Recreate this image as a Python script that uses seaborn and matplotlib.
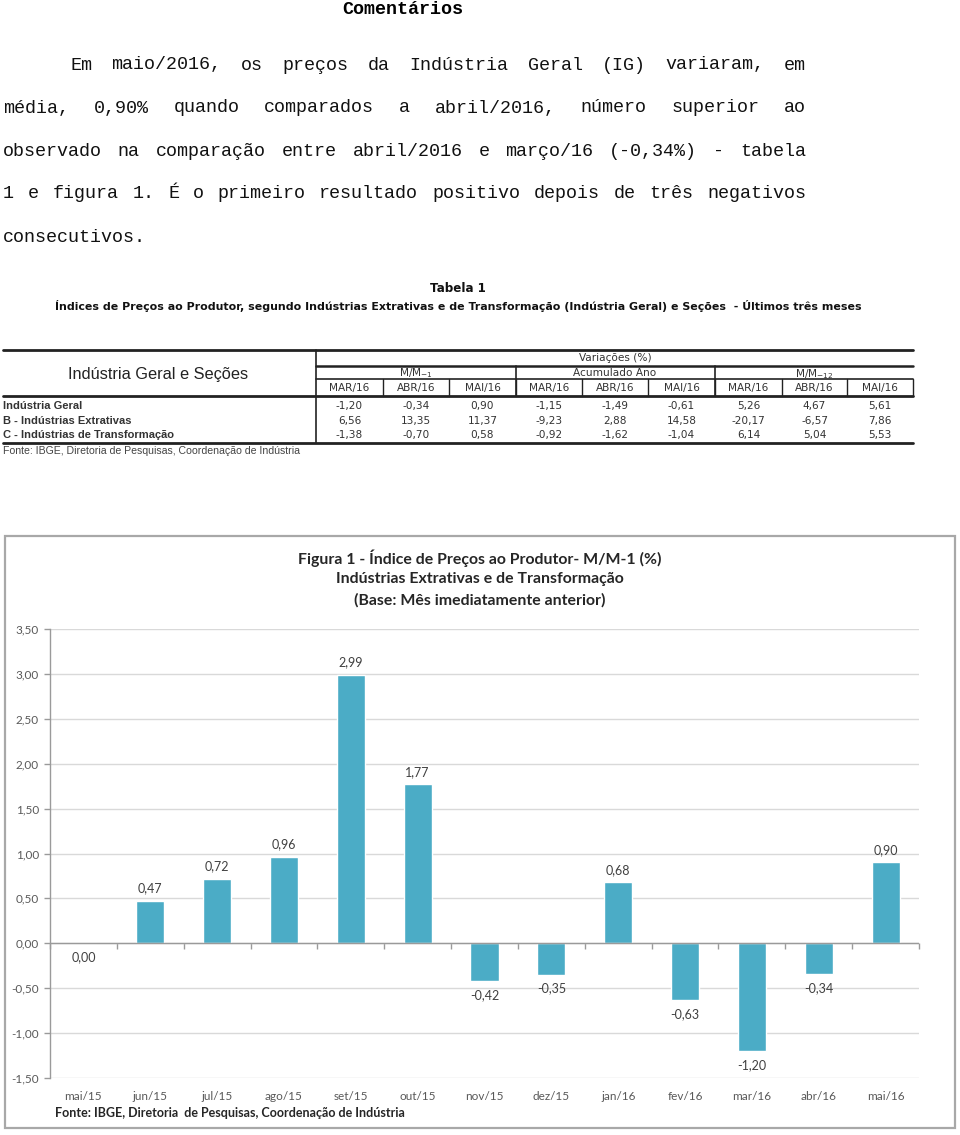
import matplotlib
matplotlib.use("Agg")
import matplotlib.pyplot as plt
from matplotlib.lines import Line2D
from matplotlib.patches import Rectangle
import seaborn as sns
import pandas as pd
from matplotlib.ticker import FuncFormatter, FixedLocator

# ---------------- data ----------------
months = ["mai/15", "jun/15", "jul/15", "ago/15", "set/15", "out/15", "nov/15",
          "dez/15", "jan/16", "fev/16", "mar/16", "abr/16", "mai/16"]
mm1_series = [0.00, 0.47, 0.72, 0.96, 2.99, 1.77, -0.42, -0.35, 0.68, -0.63, -1.20, -0.34, 0.90]
y_ticks = [-1.50, -1.00, -0.50, 0.00, 0.50, 1.00, 1.50, 2.00, 2.50, 3.00, 3.50]

table_rows = ["Indústria Geral", "B - Indústrias Extrativas", "C - Indústrias de Transformação"]
table_months = ["MAR/16", "ABR/16", "MAI/16"]
table_mm1 = [[-1.20, -0.34, 0.90], [6.56, 13.35, 11.37], [-1.38, -0.70, 0.58]]
table_acum = [[-1.15, -1.49, -0.61], [-9.23, 2.88, 14.58], [-0.92, -1.62, -1.04]]
table_mm12 = [[5.26, 4.67, 5.61], [-20.17, -6.57, 7.86], [6.14, 5.04, 5.53]]

paragraph = [
    "Em maio/2016, os preços da Indústria Geral (IG) variaram, em",
    "média, 0,90% quando comparados a abril/2016, número superior ao",
    "observado na comparação entre abril/2016 e março/16 (-0,34%) - tabela",
    "1 e figura 1. É o primeiro resultado positivo depois de três negativos",
    "consecutivos.",
]

W, H = 960, 1135
sns.set_theme(style="white")
plt.rcParams['font.family'] = ['DejaVu Sans']
fig = plt.figure(figsize=(W / 100, H / 100), dpi=100)
fig.patch.set_facecolor("white")


def fx(x):
    return x / W


def fy(y):
    return 1 - y / H


def ftext(x, y, s, **kw):
    fig.text(fx(x), fy(y), s, **kw)


def hline(x0, x1, y, lw=1.0, color="#222222"):
    fig.add_artist(Line2D([fx(x0), fx(x1)], [fy(y), fy(y)], lw=lw, color=color,
                          transform=fig.transFigure))


def vline(x, y0, y1, lw=1.0, color="#222222"):
    fig.add_artist(Line2D([fx(x), fx(x)], [fy(y0), fy(y1)], lw=lw, color=color,
                          transform=fig.transFigure))


def fmt(v):
    return f"{v:.2f}".replace(".", ",")


# ---------------- text block ----------------
mono = "Liberation Mono"
fs_mono = 13.2
cw = 0.6 * fs_mono * 100 / 72
ftext(403, 10, "Comentários", family=mono, fontsize=fs_mono, weight="bold",
      ha="center", va="center", color="black")
line_y = [65, 108, 151, 194, 237]
line_x0 = [70, 3, 3, 3, 3]
right_edge = 806
for i, line in enumerate(paragraph):
    y = line_y[i]
    if i == len(paragraph) - 1:
        ftext(line_x0[i], y, line, family=mono, fontsize=fs_mono, ha="left",
              va="center", color="#111111")
        continue
    words = line.split(" ")
    total = sum(len(w) for w in words) * cw
    gap = (right_edge - line_x0[i] - total) / (len(words) - 1)
    x = line_x0[i]
    for w in words:
        ftext(x, y, w, family=mono, fontsize=fs_mono, ha="left", va="center",
              color="#111111")
        x += len(w) * cw + gap

# ---------------- table ----------------
ftext(458, 289, "Tabela 1", fontsize=8.6, weight="bold", ha="center", va="center",
      color="#111111")
ftext(458, 306, "Índices de Preços ao Produtor, segundo Indústrias Extrativas e de "
      "Transformação (Indústria Geral) e Seções  - Últimos três meses",
      fontsize=7.95, weight="bold", ha="center", va="center", color="#111111")

col_edges = [316, 383, 449, 516, 582, 648, 715, 782, 847, 913]
hline(3, 913, 350, lw=2.0)
hline(316, 913, 366, lw=1.8)
hline(316, 913, 379, lw=1.2)
hline(3, 913, 396, lw=2.0)
hline(3, 913, 443, lw=2.0)
vline(316, 350, 443, lw=1.2)
vline(516, 366, 396, lw=1.2)
vline(715, 366, 396, lw=1.2)
for xe in col_edges[1:]:
    vline(xe, 379, 396, lw=1.0)

sub = "Liberation Sans"
hdr_fs = 7.6
ftext(158, 375, "Indústria Geral e Seções", family=sub, fontsize=11.8, ha="center",
      va="center", color="#222222")
ftext(615, 358, "Variações (%)", fontsize=hdr_fs, ha="center", va="center", color="#333333")
ftext(416, 373, "M/M$_{-1}$", fontsize=hdr_fs, ha="center", va="center", color="#333333")
ftext(615, 373, "Acumulado Ano", fontsize=hdr_fs, ha="center", va="center", color="#333333")
ftext(814, 374, "M/M$_{-12}$", fontsize=hdr_fs, ha="center", va="center", color="#333333")
for k in range(9):
    cx = (col_edges[k] + col_edges[k + 1]) / 2
    ftext(cx, 388, table_months[k % 3], fontsize=hdr_fs, ha="center", va="center",
          color="#333333")

row_y = [406, 421, 435]
for r, name in enumerate(table_rows):
    ftext(3, row_y[r], name, family=sub, fontsize=8.0, weight="bold", ha="left",
          va="center", color="#333333")
    vals = table_mm1[r] + table_acum[r] + table_mm12[r]
    for k, v in enumerate(vals):
        cx = (col_edges[k] + col_edges[k + 1]) / 2
        ftext(cx, row_y[r], fmt(v), fontsize=7.6, ha="center", va="center",
              color="#333333")
ftext(3, 451, "Fonte: IBGE, Diretoria de Pesquisas, Coordenação de Indústria",
      family=sub, fontsize=7.6, ha="left", va="center", color="#444444")

# ---------------- chart ----------------
fig.add_artist(Rectangle((fx(5), fy(1128)), fx(950), (1128 - 536) / H, fill=False,
                         edgecolor="#a8a8a8", lw=1.6, transform=fig.transFigure))
cfont = "Lato"
title_lines = ["Figura 1 - Índice de Preços ao Produtor- M/M-1 (%)",
               "Indústrias Extrativas e de Transformação",
               "(Base: Mês imediatamente anterior)"]
for t, yy in zip(title_lines, [558, 579, 600]):
    ftext(480, yy, t, family=cfont, fontsize=11.4, weight="bold", ha="center",
          va="center", color="#262626")

ax_left, ax_right, ax_top, ax_bot = 50, 919, 629, 1078
ax = fig.add_axes([fx(ax_left), fy(ax_bot), (ax_right - ax_left) / W,
                   (ax_bot - ax_top) / H])
df = pd.DataFrame({"mes": months, "valor": mm1_series})
sns.barplot(data=df, x="mes", y="valor", color="#4BACC6", saturation=1,
            width=0.42, ax=ax, zorder=3)
ymin, ymax = -1.5, 3.5
ax.set_ylim(ymin, ymax)
ax.set_xlim(-0.5, len(months) - 0.5)
ax.set_xlabel("")
ax.set_ylabel("")
ax.set_facecolor("white")
ax.yaxis.set_major_locator(FixedLocator(y_ticks))
ax.yaxis.set_major_formatter(FuncFormatter(lambda v, p: fmt(v)))
ax.grid(axis="y", color="#d9d9d9", lw=1.0, zorder=0)
ax.grid(axis="x", visible=False)
for s in ["top", "right", "bottom"]:
    ax.spines[s].set_visible(False)
ax.spines["left"].set_color("#9a9a9a")
ax.spines["left"].set_linewidth(1.0)
ax.tick_params(axis="y", left=True, length=4, width=1, color="#9a9a9a",
               labelsize=8.5, labelcolor="#595959", pad=4)
ax.tick_params(axis="x", bottom=False, length=0, labelsize=8.5, labelcolor="#595959",
               pad=9)
for lab in ax.get_xticklabels() + ax.get_yticklabels():
    lab.set_family(cfont)
ax.axhline(0, color="#9a9a9a", lw=1.0, zorder=4)
zero_frac = (0 - ymin) / (ymax - ymin)
sec = ax.secondary_xaxis(zero_frac)
sec.set_xticks([i - 0.5 for i in range(len(months) + 1)])
sec.set_xticklabels([])
sec.tick_params(axis="x", length=4, width=1, color="#9a9a9a", direction="out")
for s in sec.spines.values():
    s.set_visible(False)

for i, v in enumerate(mm1_series):
    if v > 0:
        ax.annotate(fmt(v), (i, v), xytext=(0, 9), textcoords="offset points",
                    ha="center", va="center", fontsize=9, family=cfont,
                    color="#404040")
    else:
        ax.annotate(fmt(v), (i, v), xytext=(0, -10), textcoords="offset points",
                    ha="center", va="center", fontsize=9, family=cfont,
                    color="#404040")

ftext(55, 1113, "Fonte: IBGE, Diretoria  de Pesquisas, Coordenação de Indústria",
      family=cfont, fontsize=9.0, weight="bold", ha="left", va="center",
      color="#262626")

fig.savefig("out.png", dpi=100, facecolor="white")
